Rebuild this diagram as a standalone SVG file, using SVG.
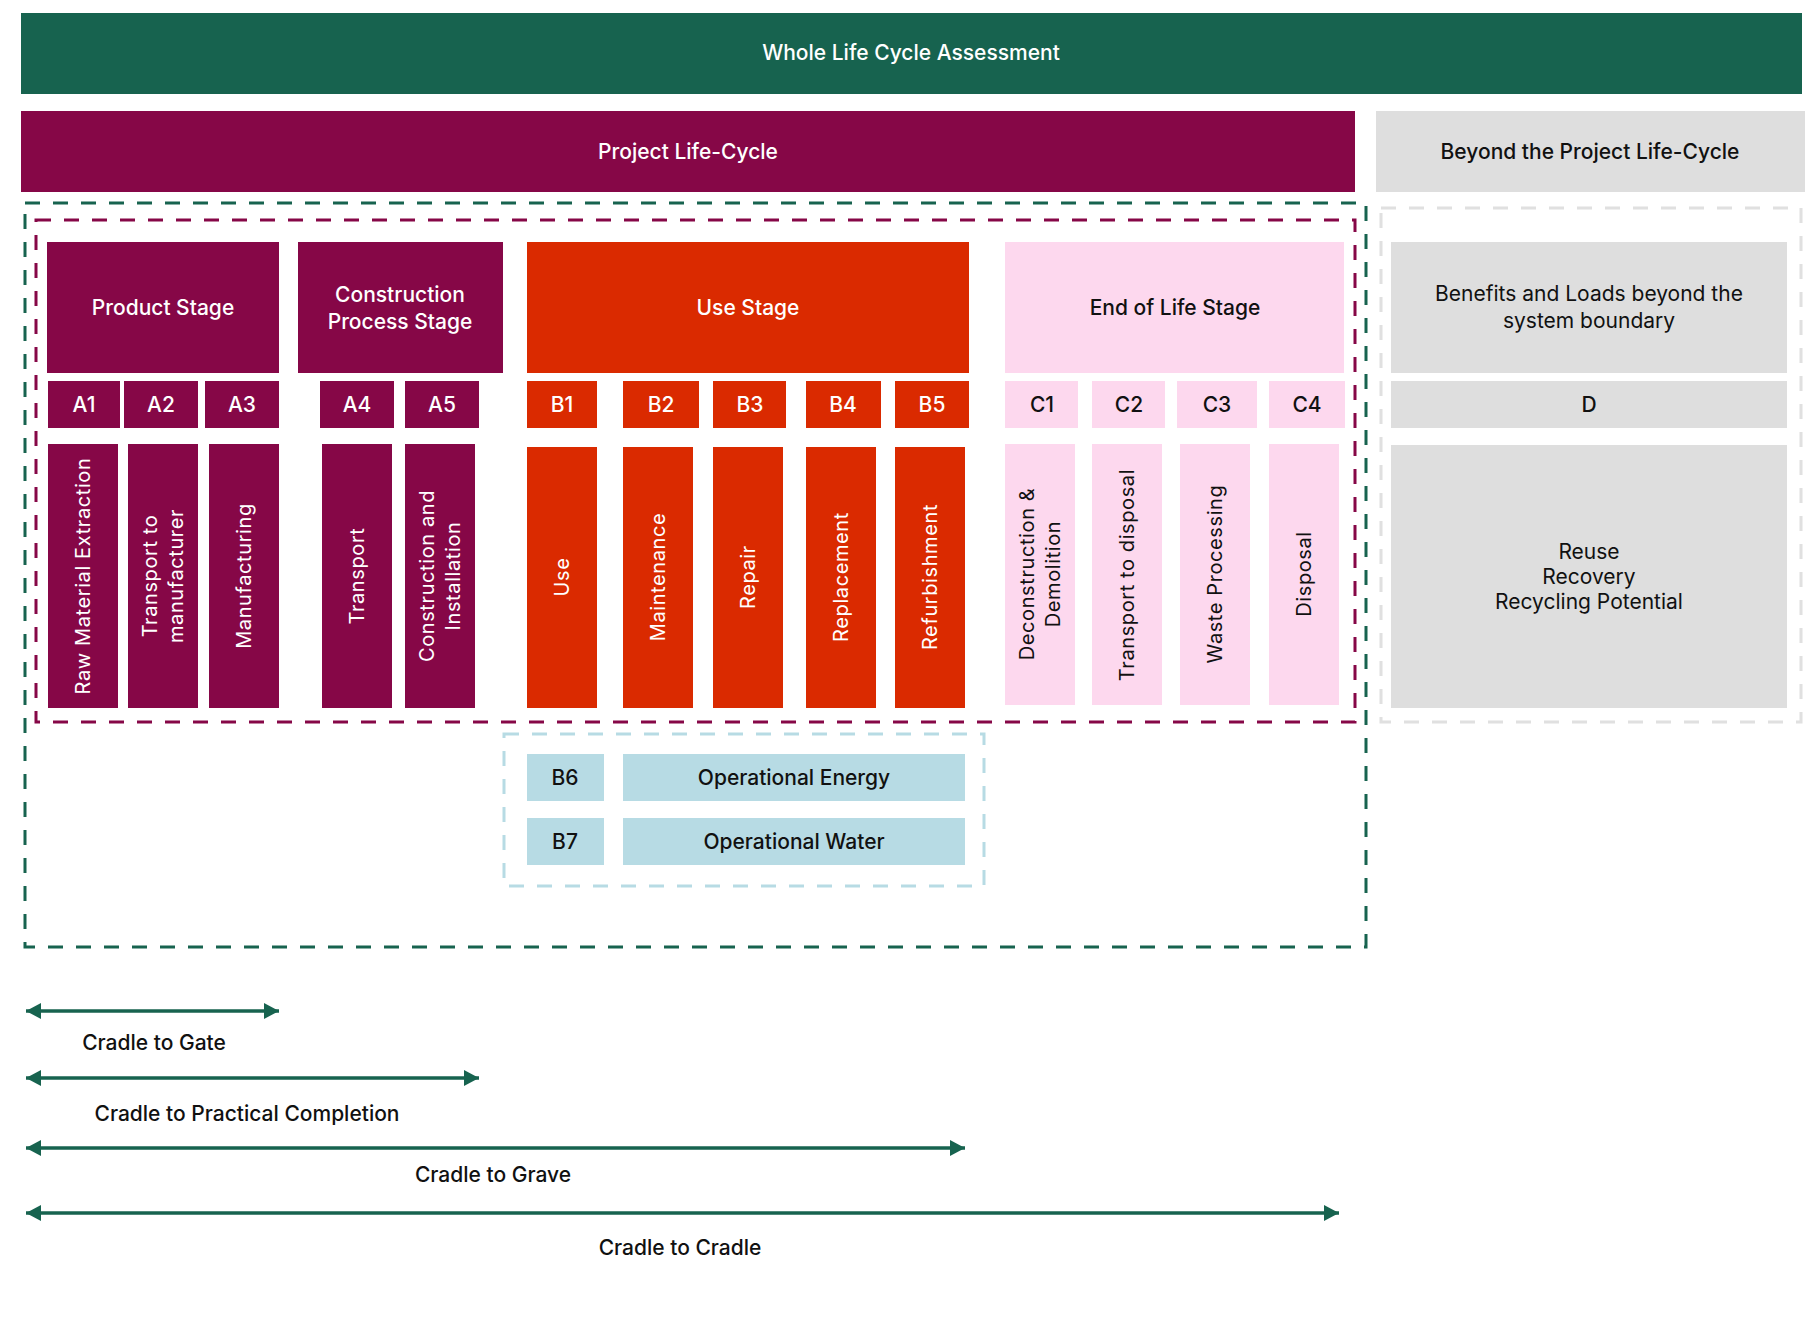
<svg xmlns="http://www.w3.org/2000/svg" width="1808" height="1320" viewBox="0 0 1808 1320">
  <style>
    text { font-family: Inter, "Noto Sans", "Liberation Sans", sans-serif; font-size: 21px; font-weight: 500; text-anchor: middle; }
    .w { fill: #ffffff; }
    .k { fill: #111111; }
    .v { font-size: 20px; font-weight: 400; letter-spacing: 0.6px; }
    .green { fill: #17634F; }
    .purple { fill: #860747; }
    .red { fill: #DA2A00; }
    .pink { fill: #FDD8EE; }
    .grey { fill: #DEDEDE; }
    .blue { fill: #B7DBE4; }
    .dash { fill: none; stroke-width: 3; stroke-dasharray: 15 13; }
    .arrow { stroke: #17634F; stroke-width: 3.5; fill: none; marker-start: url(#head); marker-end: url(#head); }
  </style>
  <defs>
    <marker id="head" markerUnits="userSpaceOnUse" markerWidth="16" markerHeight="17" refX="15" refY="8" orient="auto-start-reverse">
      <path d="M0,0 L15,8 L0,16 z" fill="#17634F"/>
    </marker>
  </defs>

  <!-- headers -->
  <g id="whole-life-cycle">
    <rect class="green" x="21" y="13" width="1781" height="81"/>
    <text class="w" x="911" y="60">Whole Life Cycle Assessment</text>
  </g>
  <g id="project-life-cycle">
    <rect class="purple" x="21" y="111" width="1334" height="81"/>
    <text class="w" x="688" y="159">Project Life-Cycle</text>
  </g>
  <g id="beyond-life-cycle">
    <rect class="grey" x="1376" y="111" width="429" height="81"/>
    <text class="k" x="1590" y="159">Beyond the Project Life-Cycle</text>
  </g>

  <!-- boundaries -->
  <g id="boundaries">
    <rect class="dash" x="25" y="203" width="1341" height="744" stroke="#17634F"/>
    <rect class="dash" x="36" y="220" width="1319" height="502" stroke="#860747"/>
    <rect class="dash" x="1381" y="208" width="420" height="514" stroke="#E0E0E0"/>
    <rect class="dash" x="504" y="734" width="480" height="152" stroke="#B7DBE4"/>
  </g>

  <!-- product stage -->
  <g id="product-stage">
    <rect class="purple" x="47" y="242" width="232" height="131"/>
    <text class="w" x="163" y="315">Product Stage</text>
  </g>
  <g id="a1">
    <rect class="purple" x="48" y="381" width="72" height="47"/>
    <text class="w" x="84" y="412">A1</text>
    <rect class="purple" x="48" y="444" width="70" height="264"/>
    <text class="w v" transform="translate(83,576) rotate(-90)" y="7">Raw Material Extraction</text>
  </g>
  <g id="a2">
    <rect class="purple" x="124" y="381" width="74" height="47"/>
    <text class="w" x="161" y="412">A2</text>
    <rect class="purple" x="128" y="444" width="70" height="264"/>
    <text class="w v" transform="translate(163,576) rotate(-90)"><tspan x="0" y="-6">Transport to</tspan><tspan x="0" y="20">manufacturer</tspan></text>
  </g>
  <g id="a3">
    <rect class="purple" x="205" y="381" width="74" height="47"/>
    <text class="w" x="242" y="412">A3</text>
    <rect class="purple" x="209" y="444" width="70" height="264"/>
    <text class="w v" transform="translate(244,576) rotate(-90)" y="7">Manufacturing</text>
  </g>

  <!-- construction process stage -->
  <g id="construction-stage">
    <rect class="purple" x="298" y="242" width="205" height="131"/>
    <text class="w"><tspan x="400" y="302">Construction</tspan><tspan x="400" y="329">Process Stage</tspan></text>
  </g>
  <g id="a4">
    <rect class="purple" x="320" y="381" width="74" height="47"/>
    <text class="w" x="357" y="412">A4</text>
    <rect class="purple" x="322" y="444" width="70" height="264"/>
    <text class="w v" transform="translate(357,576) rotate(-90)" y="7">Transport</text>
  </g>
  <g id="a5">
    <rect class="purple" x="405" y="381" width="74" height="47"/>
    <text class="w" x="442" y="412">A5</text>
    <rect class="purple" x="405" y="444" width="70" height="264"/>
    <text class="w v" transform="translate(440,576) rotate(-90)"><tspan x="0" y="-6">Construction and</tspan><tspan x="0" y="20">Installation</tspan></text>
  </g>

  <!-- use stage -->
  <g id="use-stage">
    <rect class="red" x="527" y="242" width="442" height="131"/>
    <text class="w" x="748" y="315">Use Stage</text>
  </g>
  <g id="b1">
    <rect class="red" x="527" y="381" width="70" height="47"/>
    <text class="w" x="562" y="412">B1</text>
    <rect class="red" x="527" y="447" width="70" height="261"/>
    <text class="w v" transform="translate(562,577) rotate(-90)" y="7">Use</text>
  </g>
  <g id="b2">
    <rect class="red" x="623" y="381" width="76" height="47"/>
    <text class="w" x="661" y="412">B2</text>
    <rect class="red" x="623" y="447" width="70" height="261"/>
    <text class="w v" transform="translate(658,577) rotate(-90)" y="7">Maintenance</text>
  </g>
  <g id="b3">
    <rect class="red" x="713" y="381" width="73" height="47"/>
    <text class="w" x="750" y="412">B3</text>
    <rect class="red" x="713" y="447" width="70" height="261"/>
    <text class="w v" transform="translate(748,577) rotate(-90)" y="7">Repair</text>
  </g>
  <g id="b4">
    <rect class="red" x="806" y="381" width="75" height="47"/>
    <text class="w" x="843" y="412">B4</text>
    <rect class="red" x="806" y="447" width="70" height="261"/>
    <text class="w v" transform="translate(841,577) rotate(-90)" y="7">Replacement</text>
  </g>
  <g id="b5">
    <rect class="red" x="895" y="381" width="74" height="47"/>
    <text class="w" x="932" y="412">B5</text>
    <rect class="red" x="895" y="447" width="70" height="261"/>
    <text class="w v" transform="translate(930,577) rotate(-90)" y="7">Refurbishment</text>
  </g>

  <!-- operational use -->
  <g id="b6">
    <rect class="blue" x="527" y="754" width="77" height="47"/>
    <text class="k" x="565" y="785">B6</text>
    <rect class="blue" x="623" y="754" width="342" height="47"/>
    <text class="k" x="794" y="785">Operational Energy</text>
  </g>
  <g id="b7">
    <rect class="blue" x="527" y="818" width="77" height="47"/>
    <text class="k" x="565" y="849">B7</text>
    <rect class="blue" x="623" y="818" width="342" height="47"/>
    <text class="k" x="794" y="849">Operational Water</text>
  </g>

  <!-- end of life stage -->
  <g id="end-of-life-stage">
    <rect class="pink" x="1005" y="242" width="339" height="131"/>
    <text class="k" x="1175" y="315">End of Life Stage</text>
  </g>
  <g id="c1">
    <rect class="pink" x="1005" y="381" width="73" height="47"/>
    <text class="k" x="1042" y="412">C1</text>
    <rect class="pink" x="1005" y="444" width="70" height="261"/>
    <text class="k v" transform="translate(1040,574) rotate(-90)"><tspan x="0" y="-6">Deconstruction &amp;</tspan><tspan x="0" y="20">Demolition</tspan></text>
  </g>
  <g id="c2">
    <rect class="pink" x="1092" y="381" width="73" height="47"/>
    <text class="k" x="1129" y="412">C2</text>
    <rect class="pink" x="1092" y="444" width="70" height="261"/>
    <text class="k v" transform="translate(1127,575) rotate(-90)" y="7">Transport to disposal</text>
  </g>
  <g id="c3">
    <rect class="pink" x="1177" y="381" width="80" height="47"/>
    <text class="k" x="1217" y="412">C3</text>
    <rect class="pink" x="1180" y="444" width="70" height="261"/>
    <text class="k v" transform="translate(1215,574) rotate(-90)" y="7">Waste Processing</text>
  </g>
  <g id="c4">
    <rect class="pink" x="1269" y="381" width="76" height="47"/>
    <text class="k" x="1307" y="412">C4</text>
    <rect class="pink" x="1269" y="444" width="70" height="261"/>
    <text class="k v" transform="translate(1304,574) rotate(-90)" y="7">Disposal</text>
  </g>

  <!-- beyond the system boundary -->
  <g id="benefits-loads">
    <rect class="grey" x="1391" y="242" width="396" height="131"/>
    <text class="k" style="font-weight:400"><tspan x="1589" y="301">Benefits and Loads beyond the</tspan><tspan x="1589" y="328">system boundary</tspan></text>
  </g>
  <g id="d">
    <rect class="grey" x="1391" y="381" width="396" height="47"/>
    <text class="k" x="1589" y="412">D</text>
  </g>
  <g id="reuse-recovery">
    <rect class="grey" x="1391" y="445" width="396" height="263"/>
    <text class="k" style="font-weight:400"><tspan x="1589" y="559">Reuse</tspan><tspan x="1589" y="584">Recovery</tspan><tspan x="1589" y="609">Recycling Potential</tspan></text>
  </g>

  <!-- scope arrows -->
  <g id="connectors">
    <line class="arrow" x1="26" y1="1011" x2="279" y2="1011"/>
    <line class="arrow" x1="26" y1="1078" x2="479" y2="1078"/>
    <line class="arrow" x1="26" y1="1148" x2="965" y2="1148"/>
    <line class="arrow" x1="26" y1="1213" x2="1339" y2="1213"/>
  </g>
  <g id="scope-labels">
    <text class="k" x="154" y="1050">Cradle to Gate</text>
    <text class="k" x="247" y="1121">Cradle to Practical Completion</text>
    <text class="k" x="493" y="1182">Cradle to Grave</text>
    <text class="k" x="680" y="1255">Cradle to Cradle</text>
  </g>
</svg>
